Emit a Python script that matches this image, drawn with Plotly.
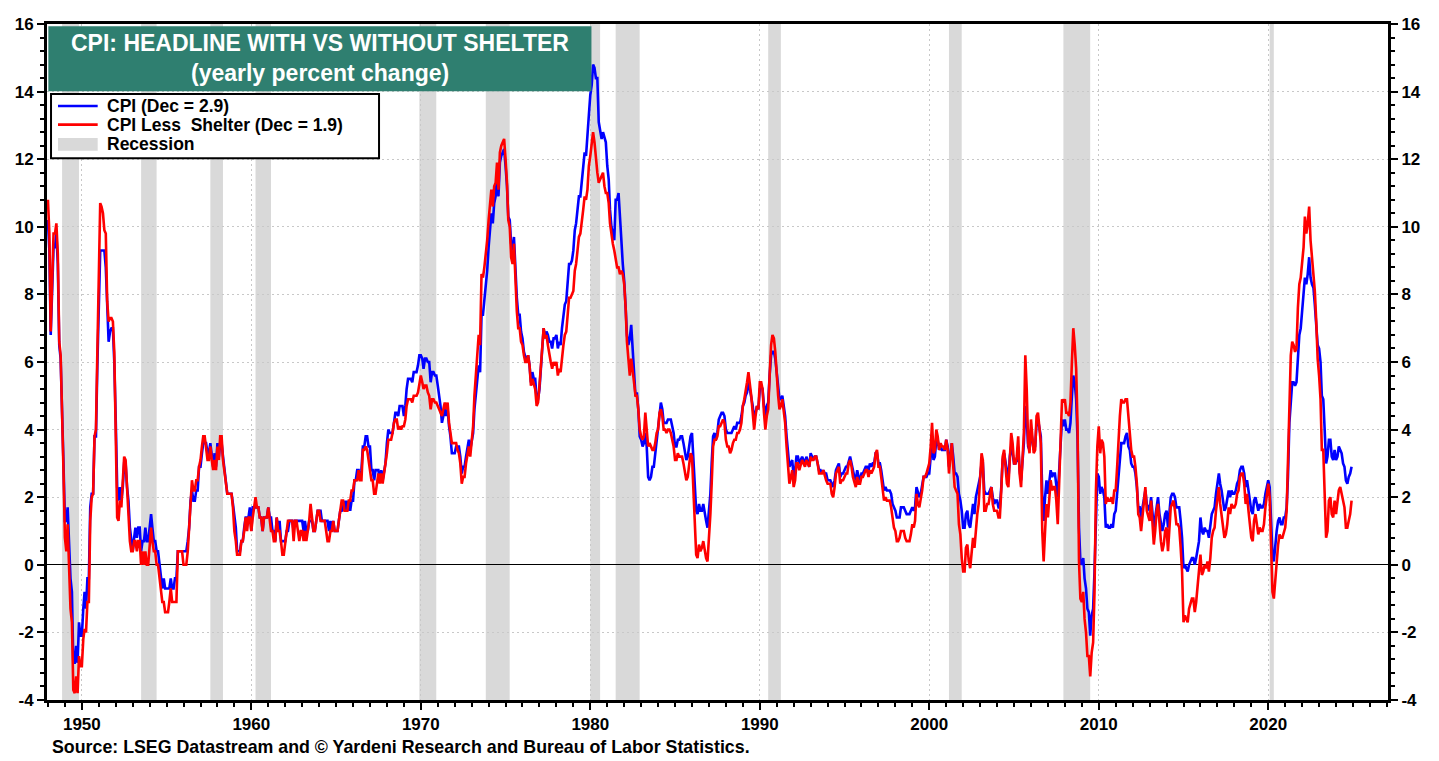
import pandas as pd
import plotly.graph_objects as go

# ---------------- data (yearly % change, monthly, Jan 1948 - Dec 2024) ----------------
CPI_1948_49 = [10.2, 9.3, 6.8, 8.3, 9.4, 9.4, 9.8, 8.9, 6.5, 6.1, 4.8, 3.0,
               1.3, 1.3, 1.7, 0.4, -0.4, -0.8, -2.9, -2.9, -2.4, -2.9, -1.7, -2.1]
CPI_1950S = [-2.1, -1.3, -0.8, -1.3, -0.4, -0.4, 1.7, 2.1, 2.1, 3.8, 3.8, 5.9,
             8.1, 9.3, 9.3, 9.3, 9.3, 8.8, 7.5, 6.6, 6.9, 7.0, 7.0, 6.0,
             4.3, 2.3, 1.9, 2.3, 1.9, 2.3, 3.0, 3.0, 2.3, 1.9, 1.1, 0.8,
             0.4, 0.8, 1.1, 0.8, 1.1, 1.1, 0.4, 0.7, 0.7, 1.1, 0.7, 0.7,
             1.1, 1.5, 1.1, 0.7, 0.7, 0.4, 0.4, 0.0, -0.4, -0.7, -0.4, -0.7,
             -0.7, -0.7, -0.7, -0.4, -0.7, -0.7, -0.4, -0.4, 0.4, 0.4, 0.4, 0.4,
             0.4, 0.4, 0.4, 0.7, 1.1, 1.9, 2.2, 1.9, 1.9, 2.2, 2.2, 2.9,
             2.9, 3.3, 3.6, 3.6, 3.6, 3.3, 3.3, 3.6, 3.3, 2.9, 3.3, 2.9,
             3.6, 3.2, 3.6, 3.6, 3.2, 2.8, 2.5, 2.1, 2.1, 2.1, 2.1, 1.8,
             1.4, 1.1, 0.4, 0.4, 0.4, 0.7, 0.7, 1.1, 1.4, 1.4, 1.4, 1.7]
CPI_1960S = [1.0, 1.7, 1.7, 1.7, 1.7, 1.7, 1.4, 1.4, 1.0, 1.4, 1.4, 1.4,
             1.7, 1.4, 1.4, 1.0, 1.0, 0.7, 1.4, 1.0, 1.3, 0.7, 0.7, 0.7,
             0.7, 1.0, 1.0, 1.3, 1.3, 1.3, 1.0, 1.3, 1.3, 1.3, 1.3, 1.3,
             1.3, 1.0, 1.3, 1.0, 1.0, 1.3, 1.3, 1.3, 1.0, 1.0, 1.3, 1.6,
             1.6, 1.6, 1.3, 1.3, 1.3, 1.3, 1.3, 1.0, 1.3, 1.0, 1.3, 1.0,
             1.0, 1.0, 1.3, 1.6, 1.6, 1.9, 1.6, 1.9, 1.6, 1.9, 1.6, 1.9,
             1.9, 2.5, 2.5, 2.8, 2.8, 2.5, 2.8, 3.5, 3.5, 3.8, 3.8, 3.5,
             3.5, 2.8, 2.8, 2.5, 2.8, 2.8, 2.8, 2.5, 2.8, 2.5, 2.8, 3.0,
             3.6, 4.0, 3.9, 3.9, 3.9, 4.2, 4.5, 4.5, 4.4, 4.7, 4.7, 4.7,
             4.4, 4.7, 5.2, 5.5, 5.5, 5.5, 5.4, 5.7, 5.7, 5.7, 5.9, 6.2]
CPI_1970S = [6.2, 6.1, 5.8, 6.1, 6.1, 6.0, 6.0, 5.4, 5.7, 5.7, 5.6, 5.6,
             5.3, 5.0, 4.7, 4.2, 4.4, 4.6, 4.4, 4.6, 4.1, 3.8, 3.3, 3.3,
             3.3, 3.5, 3.5, 3.5, 3.2, 2.7, 2.9, 2.9, 3.2, 3.4, 3.7, 3.4,
             3.6, 3.9, 4.6, 5.1, 5.5, 5.9, 5.7, 7.4, 7.4, 7.8, 8.3, 8.7,
             9.4, 10.0, 10.4, 10.1, 10.7, 10.9, 11.5, 10.9, 11.9, 12.1, 12.2, 12.3,
             11.8, 11.2, 10.3, 10.2, 9.5, 9.3, 9.7, 8.6, 7.9, 7.4, 7.4, 6.9,
             6.7, 6.3, 6.1, 6.0, 6.2, 5.9, 5.4, 5.7, 5.5, 5.5, 4.9, 4.9,
             5.2, 5.9, 6.4, 7.0, 6.7, 6.9, 6.8, 6.6, 6.6, 6.4, 6.7, 6.7,
             6.8, 6.4, 6.6, 6.5, 7.0, 7.4, 7.7, 7.8, 8.3, 8.9, 8.9, 9.0,
             9.3, 9.9, 10.1, 10.5, 10.9, 10.9, 11.3, 11.8, 12.2, 12.1, 12.6, 13.3]
CPI_1980S = [13.9, 14.2, 14.8, 14.7, 14.4, 14.4, 13.1, 12.9, 12.6, 12.8, 12.6, 12.5,
             11.8, 11.4, 10.5, 10.0, 9.8, 9.6, 10.8, 10.8, 11.0, 10.1, 9.6, 8.9,
             8.4, 7.6, 6.8, 6.5, 6.7, 7.1, 6.4, 5.9, 5.0, 5.1, 4.6, 3.8,
             3.7, 3.5, 3.6, 3.9, 3.5, 2.6, 2.5, 2.6, 2.9, 2.9, 3.3, 3.8,
             4.2, 4.6, 4.8, 4.6, 4.2, 4.2, 4.2, 4.3, 4.3, 4.3, 4.1, 3.9,
             3.5, 3.5, 3.7, 3.7, 3.8, 3.8, 3.6, 3.3, 3.1, 3.2, 3.5, 3.8,
             3.9, 3.1, 2.2, 1.6, 1.5, 1.8, 1.6, 1.6, 1.8, 1.5, 1.3, 1.1,
             1.5, 2.1, 3.0, 3.8, 3.9, 3.7, 3.9, 4.3, 4.4, 4.5, 4.5, 4.4,
             4.0, 3.9, 3.9, 3.9, 3.9, 4.0, 4.1, 4.0, 4.2, 4.2, 4.2, 4.4,
             4.7, 4.8, 5.0, 5.1, 5.4, 5.2, 5.0, 4.7, 4.3, 4.5, 4.7, 4.6]
CPI_1990S = [5.2, 5.3, 5.2, 4.7, 4.4, 4.7, 4.8, 5.6, 6.2, 6.3, 6.3, 6.1,
             5.7, 5.3, 4.9, 4.9, 5.0, 4.7, 4.4, 3.8, 3.4, 2.9, 3.0, 3.1,
             2.6, 2.8, 3.2, 3.2, 3.0, 3.1, 3.2, 3.1, 3.0, 3.2, 3.0, 2.9,
             3.3, 3.2, 3.1, 3.2, 3.2, 3.0, 2.8, 2.8, 2.7, 2.8, 2.7, 2.7,
             2.5, 2.5, 2.5, 2.4, 2.3, 2.5, 2.8, 2.9, 3.0, 2.6, 2.7, 2.7,
             2.8, 2.9, 2.9, 3.1, 3.2, 3.0, 2.8, 2.6, 2.5, 2.8, 2.6, 2.5,
             2.7, 2.7, 2.8, 2.9, 2.9, 2.8, 3.0, 2.9, 3.0, 3.0, 3.3, 3.3,
             3.0, 3.0, 2.8, 2.5, 2.2, 2.3, 2.2, 2.2, 2.2, 2.1, 1.8, 1.7,
             1.6, 1.4, 1.4, 1.4, 1.7, 1.7, 1.7, 1.6, 1.5, 1.5, 1.5, 1.6,
             1.7, 1.6, 1.7, 2.3, 2.1, 2.0, 2.1, 2.3, 2.6, 2.6, 2.6, 2.7]
CPI_2000S = [2.7, 3.2, 3.8, 3.1, 3.2, 3.7, 3.7, 3.4, 3.5, 3.4, 3.4, 3.4,
             3.7, 3.5, 2.9, 3.3, 3.6, 3.2, 2.7, 2.7, 2.6, 2.1, 1.9, 1.6,
             1.1, 1.1, 1.5, 1.6, 1.2, 1.1, 1.5, 1.8, 1.5, 2.0, 2.2, 2.4,
             2.6, 3.0, 3.0, 2.2, 2.1, 2.1, 2.1, 2.2, 2.3, 2.0, 1.8, 1.9,
             1.9, 1.7, 1.7, 2.3, 3.1, 3.3, 3.0, 2.7, 2.5, 3.2, 3.5, 3.3,
             3.0, 3.0, 3.1, 3.5, 2.8, 2.5, 3.2, 3.6, 4.7, 4.3, 3.5, 3.4,
             4.0, 3.6, 3.4, 3.5, 4.2, 4.3, 4.1, 3.8, 2.1, 1.3, 2.0, 2.5,
             2.1, 2.4, 2.8, 2.6, 2.7, 2.7, 2.4, 2.0, 2.8, 3.5, 4.3, 4.1,
             4.3, 4.0, 4.0, 3.9, 4.2, 5.0, 5.6, 5.4, 4.9, 3.7, 1.1, 0.1,
             0.0, 0.2, -0.4, -0.7, -1.3, -1.4, -2.1, -1.5, -1.3, -0.2, 1.8, 2.7]
CPI_2010S = [2.6, 2.1, 2.3, 2.2, 2.0, 1.1, 1.2, 1.1, 1.1, 1.2, 1.1, 1.5,
             1.6, 2.1, 2.7, 3.2, 3.6, 3.6, 3.6, 3.8, 3.9, 3.5, 3.4, 3.0,
             2.9, 2.9, 2.7, 2.3, 1.7, 1.7, 1.4, 1.7, 2.0, 2.2, 1.8, 1.7,
             1.6, 2.0, 1.5, 1.1, 1.4, 1.8, 2.0, 1.5, 1.2, 1.0, 1.2, 1.5,
             1.6, 1.1, 1.5, 2.0, 2.1, 2.1, 2.0, 1.7, 1.7, 1.7, 1.3, 0.8,
             -0.1, 0.0, -0.1, -0.2, 0.0, 0.1, 0.2, 0.2, 0.0, 0.2, 0.5, 0.7,
             1.4, 1.0, 0.9, 1.1, 1.0, 1.0, 0.8, 1.1, 1.5, 1.6, 1.7, 2.1,
             2.5, 2.7, 2.4, 2.2, 1.9, 1.6, 1.7, 1.9, 2.2, 2.0, 2.2, 2.1,
             2.1, 2.2, 2.4, 2.5, 2.8, 2.9, 2.9, 2.7, 2.3, 2.5, 2.2, 1.9,
             1.6, 1.5, 1.9, 2.0, 1.8, 1.6, 1.8, 1.7, 1.7, 1.8, 2.1, 2.3]
CPI_2020S = [2.5, 2.3, 1.5, 0.3, 0.1, 0.6, 1.0, 1.3, 1.4, 1.2, 1.2, 1.4,
             1.4, 1.7, 2.6, 4.2, 5.0, 5.4, 5.4, 5.3, 5.4, 6.2, 6.8, 7.0,
             7.5, 7.9, 8.5, 8.3, 8.6, 9.1, 8.5, 8.3, 8.2, 7.7, 7.1, 6.5,
             6.4, 6.0, 5.0, 4.9, 4.0, 3.0, 3.2, 3.7, 3.7, 3.2, 3.1, 3.4,
             3.1, 3.2, 3.5, 3.4, 3.3, 3.0, 2.9, 2.5, 2.4, 2.6, 2.7, 2.9]

LESS_SHELTER_1948_49 = [10.8, 9.8, 6.9, 8.6, 9.8, 9.8, 10.1, 9.2, 6.6, 6.2, 4.8, 2.8,
                        0.8, 0.4, 1.2, -0.4, -1.3, -1.7, -3.7, -3.8, -3.3, -3.8, -2.7, -3.0]
LESS_SHELTER_1950S = [-3.0, -2.2, -1.9, -2.0, -1.1, -1.1, 1.3, 2.0, 2.1, 3.8, 4.0, 6.3,
                      8.9, 10.7, 10.6, 10.4, 9.9, 9.8, 7.8, 7.2, 7.3, 7.3, 7.2, 6.3,
                      3.9, 1.4, 1.3, 1.9, 1.7, 2.4, 3.2, 3.1, 2.3, 1.7, 0.7, 0.4,
                      0.4, 0.7, 0.7, 0.4, 0.7, 0.7, 0.0, 0.4, 0.0, 0.4, 0.0, 0.0,
                      0.7, 1.1, 0.7, 0.4, 0.4, 0.0, 0.0, -0.4, -0.7, -1.1, -1.1, -1.4,
                      -1.4, -1.4, -1.1, -0.7, -1.1, -1.1, -1.1, -1.1, 0.4, 0.4, 0.4, 0.4,
                      0.0, 0.0, 0.0, 0.4, 1.1, 1.8, 2.5, 2.2, 2.2, 2.5, 2.5, 2.9,
                      3.1, 3.5, 3.8, 3.8, 3.5, 3.1, 3.1, 3.5, 3.1, 2.8, 3.1, 2.8,
                      3.5, 3.1, 3.8, 3.8, 3.1, 2.8, 2.4, 2.1, 2.1, 2.1, 2.1, 1.7,
                      1.0, 0.7, 0.3, 0.3, 0.3, 0.7, 0.7, 1.0, 1.4, 1.0, 1.4, 1.4]
LESS_SHELTER_1960S = [1.0, 1.4, 1.7, 2.0, 1.7, 1.7, 1.4, 1.4, 1.0, 1.4, 1.4, 1.4,
                      1.7, 1.4, 1.0, 1.0, 0.7, 0.7, 1.4, 1.0, 1.0, 0.7, 0.3, 0.3,
                      0.7, 1.0, 1.3, 1.3, 1.3, 1.3, 0.7, 1.3, 1.3, 1.0, 0.7, 1.0,
                      1.0, 0.7, 1.0, 0.7, 1.0, 1.3, 1.8, 1.3, 1.0, 1.0, 1.3, 1.6,
                      1.6, 1.3, 1.3, 1.3, 1.3, 1.0, 0.7, 0.7, 1.0, 1.0, 1.3, 1.0,
                      1.0, 1.0, 1.3, 1.6, 1.9, 1.9, 1.6, 1.6, 1.6, 1.9, 1.9, 2.2,
                      2.2, 2.5, 2.5, 2.5, 2.8, 2.5, 2.5, 3.4, 3.4, 3.5, 3.4, 3.1,
                      2.8, 2.5, 2.5, 2.1, 2.1, 2.4, 2.7, 2.4, 2.7, 2.4, 2.7, 2.9,
                      3.3, 3.7, 3.7, 3.7, 3.9, 4.2, 4.3, 4.3, 4.0, 4.1, 4.0, 4.1,
                      4.1, 4.3, 4.7, 4.9, 4.9, 4.9, 4.8, 5.0, 5.0, 5.0, 5.1, 5.4]
LESS_SHELTER_1970S = [5.6, 5.4, 5.2, 5.3, 5.3, 5.1, 5.0, 4.6, 4.9, 4.9, 4.8, 4.8,
                      4.7, 4.6, 4.5, 4.4, 4.6, 4.8, 4.6, 4.8, 4.2, 3.9, 3.6, 3.6,
                      3.6, 3.6, 3.4, 3.3, 3.0, 2.4, 2.6, 2.6, 3.0, 3.2, 3.5, 3.2,
                      3.6, 4.1, 5.0, 5.8, 6.2, 6.8, 6.5, 8.6, 8.5, 8.8, 9.2, 9.6,
                      10.2, 10.8, 11.1, 10.6, 11.2, 11.3, 11.9, 11.1, 12.2, 12.4, 12.5, 12.6,
                      12.0, 11.3, 10.2, 10.0, 9.1, 8.9, 9.5, 8.3, 7.5, 7.0, 7.0, 6.6,
                      6.5, 6.2, 6.0, 6.0, 6.2, 5.9, 5.3, 5.5, 5.3, 5.2, 4.7, 4.8,
                      5.3, 6.0, 6.6, 7.0, 6.7, 6.8, 6.5, 6.2, 6.0, 5.8, 6.0, 5.9,
                      6.0, 5.6, 5.8, 5.7, 6.2, 6.5, 6.8, 6.9, 7.4, 7.9, 7.9, 8.0,
                      8.1, 8.7, 8.9, 9.3, 9.7, 9.8, 10.1, 10.5, 10.9, 10.8, 11.1, 11.8]
LESS_SHELTER_1980S = [12.1, 12.4, 12.8, 12.5, 11.9, 11.6, 11.3, 11.4, 11.5, 11.6, 11.2, 11.0,
                      11.0, 10.7, 10.1, 9.7, 9.5, 9.3, 9.0, 8.8, 8.8, 8.6, 8.7, 8.6,
                      8.3, 7.6, 6.6, 6.0, 5.6, 6.1, 5.8, 5.4, 5.0, 5.0, 4.6, 4.0,
                      3.8, 3.7, 3.8, 4.5, 4.0, 3.5, 3.6, 3.5, 3.4, 3.4, 3.6, 3.9,
                      4.0, 4.5, 4.6, 4.4, 4.0, 4.0, 3.9, 4.0, 4.0, 3.9, 3.7, 3.5,
                      3.1, 3.1, 3.3, 3.2, 3.2, 3.2, 3.0, 2.7, 2.5, 2.6, 3.0, 3.3,
                      3.2, 2.2, 0.9, 0.3, 0.2, 0.6, 0.4, 0.5, 0.7, 0.4, 0.2, 0.1,
                      0.7, 1.5, 2.4, 3.5, 3.7, 3.7, 3.8, 4.1, 4.1, 4.2, 4.3, 4.2,
                      3.7, 3.5, 3.5, 3.3, 3.4, 3.6, 3.7, 3.7, 3.9, 3.9, 4.0, 4.2,
                      4.7, 4.9, 5.1, 5.4, 5.7, 5.4, 5.0, 4.5, 4.0, 4.4, 4.7, 4.6]
LESS_SHELTER_1990S = [5.4, 5.4, 5.2, 4.5, 4.0, 4.4, 4.6, 5.6, 6.5, 6.8, 6.7, 6.3,
                      5.5, 5.0, 4.6, 4.7, 4.9, 4.6, 4.2, 3.5, 3.0, 2.4, 2.6, 2.8,
                      2.3, 2.5, 3.0, 3.0, 2.8, 3.0, 3.1, 3.0, 2.9, 3.1, 3.0, 2.9,
                      3.2, 3.1, 3.1, 3.2, 3.2, 3.0, 2.7, 2.7, 2.7, 2.8, 2.6, 2.5,
                      2.4, 2.4, 2.4, 2.1, 2.0, 2.3, 2.7, 2.8, 2.9, 2.4, 2.5, 2.5,
                      2.6, 2.7, 2.7, 3.0, 3.1, 2.9, 2.6, 2.4, 2.3, 2.6, 2.4, 2.4,
                      2.6, 2.6, 2.7, 2.8, 2.8, 2.6, 2.8, 2.7, 2.8, 2.9, 3.3, 3.4,
                      2.9, 2.9, 2.6, 2.2, 1.9, 2.0, 1.9, 1.9, 1.9, 1.7, 1.4, 1.1,
                      1.0, 0.7, 0.7, 0.8, 1.0, 1.0, 1.0, 0.8, 0.7, 0.7, 0.7, 0.9,
                      1.2, 1.1, 1.3, 2.1, 1.8, 1.7, 1.9, 2.2, 2.6, 2.6, 2.7, 2.9]
LESS_SHELTER_2000S = [3.0, 3.5, 4.2, 3.3, 3.4, 4.0, 3.8, 3.4, 3.6, 3.5, 3.5, 3.4,
                      3.7, 3.4, 2.7, 3.2, 3.6, 2.9, 2.3, 2.2, 2.1, 1.2, 0.9, 0.2,
                      -0.2, -0.2, 0.5, 0.6, 0.1, -0.1, 0.4, 0.8, 0.5, 1.1, 1.5, 1.8,
                      2.5, 3.3, 3.1, 1.6, 1.6, 1.8, 1.8, 2.1, 2.3, 1.8, 1.6, 1.6,
                      1.6, 1.4, 1.4, 2.2, 3.2, 3.4, 2.9, 2.4, 2.3, 3.3, 3.9, 3.6,
                      3.0, 3.0, 3.2, 3.8, 2.7, 2.3, 3.3, 3.9, 6.2, 5.2, 3.6, 3.3,
                      4.3, 3.6, 3.3, 3.4, 4.4, 4.5, 4.1, 3.6, 1.0, 0.1, 1.0, 1.8,
                      1.4, 1.9, 2.5, 2.2, 2.3, 2.3, 1.9, 1.2, 2.4, 3.6, 4.9, 4.8,
                      4.9, 4.5, 4.5, 4.4, 4.8, 6.0, 7.0, 6.5, 5.8, 4.1, 0.1, -1.0,
                      -1.1, -0.8, -1.6, -2.0, -2.7, -2.7, -3.3, -2.6, -2.3, -0.8, 2.2, 3.5]
LESS_SHELTER_2010S = [4.1, 3.3, 3.7, 3.6, 3.2, 1.8, 2.0, 1.9, 1.9, 2.0, 1.8, 2.2,
                      2.2, 2.9, 3.8, 4.4, 4.9, 4.8, 4.8, 4.9, 4.9, 4.3, 4.0, 3.4,
                      3.2, 3.2, 2.9, 2.4, 1.5, 1.4, 1.0, 1.5, 2.0, 2.3, 1.6, 1.4,
                      1.3, 1.9, 1.2, 0.6, 1.0, 1.6, 1.8, 1.2, 0.7, 0.4, 0.6, 1.0,
                      1.1, 0.4, 0.9, 1.7, 1.8, 1.9, 1.6, 1.2, 1.2, 1.1, 0.5, -0.2,
                      -1.7, -1.5, -1.6, -1.7, -1.3, -1.1, -1.0, -1.0, -1.4, -1.1, -0.6, -0.3,
                      0.3, -0.3, -0.2, 0.0, -0.1, 0.1, -0.2, 0.2, 0.8, 1.0, 1.1, 1.6,
                      2.0, 2.3, 1.8, 1.5, 1.1, 0.8, 0.9, 1.2, 1.7, 1.5, 1.8, 1.7,
                      1.7, 1.8, 2.1, 2.2, 2.6, 2.7, 2.7, 2.4, 1.8, 2.1, 1.6, 1.2,
                      0.8, 0.7, 1.3, 1.5, 1.2, 0.9, 1.1, 1.0, 1.0, 1.2, 1.7, 2.1]
LESS_SHELTER_2020S = [2.4, 2.0, 0.9, -0.8, -1.0, -0.4, 0.2, 0.6, 0.9, 0.8, 0.8, 1.0,
                      1.1, 1.6, 3.0, 5.1, 6.2, 6.6, 6.5, 6.3, 6.4, 7.6, 8.3, 8.5,
                      9.0, 9.4, 10.3, 9.8, 10.1, 10.6, 9.6, 9.1, 8.8, 8.1, 7.2, 6.1,
                      5.6, 4.9, 3.4, 3.4, 2.1, 0.8, 1.0, 1.9, 2.0, 1.5, 1.4, 1.9,
                      1.5, 1.8, 2.2, 2.3, 2.1, 1.8, 1.7, 1.1, 1.1, 1.3, 1.5, 1.9]

RECESSIONS = [("1948-11-01", "1949-10-31"), ("1953-07-01", "1954-05-31"),
              ("1957-08-01", "1958-04-30"), ("1960-04-01", "1961-02-28"),
              ("1969-12-01", "1970-11-30"), ("1973-11-01", "1975-03-31"),
              ("1980-01-01", "1980-07-31"), ("1981-07-01", "1982-11-30"),
              ("1990-07-01", "1991-03-31"), ("2001-03-01", "2001-11-30"),
              ("2007-12-01", "2009-06-30"), ("2020-02-01", "2020-04-30")]

DECADES = [1950, 1960, 1970, 1980, 1990, 2000, 2010, 2020]
Y_TICKS = [-4, -2, 0, 2, 4, 6, 8, 10, 12, 14, 16]

SERIES_NAMES = ["CPI (Dec = 2.9)", "CPI Less\u00a0 Shelter (Dec = 1.9)", "Recession"]

cpi = (CPI_1948_49 + CPI_1950S + CPI_1960S + CPI_1970S + CPI_1980S +
       CPI_1990S + CPI_2000S + CPI_2010S + CPI_2020S)
less_shelter = (LESS_SHELTER_1948_49 + LESS_SHELTER_1950S + LESS_SHELTER_1960S +
                LESS_SHELTER_1970S + LESS_SHELTER_1980S + LESS_SHELTER_1990S +
                LESS_SHELTER_2000S + LESS_SHELTER_2010S + LESS_SHELTER_2020S)
dates = pd.date_range("1948-01-01", periods=len(cpi), freq="MS")
dates_ls = pd.date_range("1948-01-01", periods=len(less_shelter), freq="MS")

FONT = "Liberation Sans, Arial, sans-serif"
GRID = "#c8c8c8"
REC = "#d9d9d9"
BLUE = "#0000ff"
RED = "#ff0000"

fig = go.Figure()
fig.add_trace(go.Scatter(x=dates, y=cpi, mode="lines", name=SERIES_NAMES[0],
                         line=dict(color=BLUE, width=2.6), showlegend=False))
fig.add_trace(go.Scatter(x=dates_ls, y=less_shelter, mode="lines", name=SERIES_NAMES[1],
                         line=dict(color=RED, width=2.6), showlegend=False))
# empty trace that anchors the right-hand axis
fig.add_trace(go.Scatter(x=[None], y=[None], mode="lines", name=SERIES_NAMES[2],
                         line=dict(color=REC, width=13), yaxis="y2", showlegend=False))

for a, b in RECESSIONS:
    fig.add_shape(type="rect", xref="x", yref="paper", x0=a, x1=b, y0=0, y1=1,
                  fillcolor=REC, line=dict(width=0), layer="below")

# ---- title box ----
fig.add_shape(type="rect", xref="paper", yref="paper", x0=0.001, x1=0.406,
              y0=0.9005, y1=0.9965, fillcolor="#2f7f70", line=dict(width=0),
              layer="above")
fig.add_annotation(xref="paper", yref="paper", x=0.2035, y=0.9725,
                   text="<b>CPI: HEADLINE WITH VS WITHOUT SHELTER</b>",
                   showarrow=False, font=dict(family=FONT, size=23, color="white"),
                   xanchor="center", yanchor="middle")
fig.add_annotation(xref="paper", yref="paper", x=0.2035, y=0.927,
                   text="<b>(yearly percent change)</b>",
                   showarrow=False, font=dict(family=FONT, size=23, color="white"),
                   xanchor="center", yanchor="middle")

# ---- legend box (drawn manually for exact layout) ----
fig.add_shape(type="rect", xref="paper", yref="paper", x0=0.003, x1=0.2476,
              y0=0.8015, y1=0.8964, fillcolor="white",
              line=dict(color="black", width=2), layer="above")
leg_rows = [0.8788, 0.8511, 0.8219]
fig.add_shape(type="line", xref="paper", yref="paper", x0=0.0082, x1=0.0378,
              y0=leg_rows[0], y1=leg_rows[0], line=dict(color=BLUE, width=2.6),
              layer="above")
fig.add_shape(type="line", xref="paper", yref="paper", x0=0.0082, x1=0.0378,
              y0=leg_rows[1], y1=leg_rows[1], line=dict(color=RED, width=2.6),
              layer="above")
fig.add_shape(type="rect", xref="paper", yref="paper", x0=0.0082, x1=0.0378,
              y0=leg_rows[2] - 0.0095, y1=leg_rows[2] + 0.0095, fillcolor=REC,
              line=dict(width=0), layer="above")
for name, yy in zip(SERIES_NAMES, leg_rows):
    fig.add_annotation(xref="paper", yref="paper", x=0.0432, y=yy,
                       text=f"<b>{name}</b>", showarrow=False,
                       font=dict(family=FONT, size=17.5, color="black"),
                       xanchor="left", yanchor="middle")

# ---- source ----
fig.add_annotation(xref="paper", yref="paper", x=0.002, y=-0.069,
                   text="<b>Source: LSEG Datastream and © Yardeni Research and Bureau of Labor Statistics.</b>",
                   showarrow=False, font=dict(family=FONT, size=17.8, color="black"),
                   xanchor="left", yanchor="middle")

tickfont = dict(family=FONT, size=17, color="black", weight="bold")
yaxis_common = dict(range=[-4, 16], tickmode="array", tickvals=Y_TICKS,
                    ticktext=[str(v) for v in Y_TICKS], ticks="outside",
                    ticklen=7, tickwidth=2, tickcolor="black", tickfont=tickfont,
                    showline=True, linewidth=3, linecolor="black",
                    minor=dict(ticks="outside", ticklen=4, tickwidth=1.5,
                               tickcolor="black", tick0=0, dtick=0.4, showgrid=False),
                    fixedrange=True)

# page body has an 8px margin, so the figure is shifted/sized to compensate
fig.update_layout(
    width=1431, height=753, autosize=False,
    margin=dict(l=31, r=51, t=7, b=61),
    paper_bgcolor="white", plot_bgcolor="white",
    showlegend=False,
    xaxis=dict(type="date", range=["1947-12-12", "2027-01-25"],
               tickmode="array",
               tickvals=[f"{d}-01-01" for d in DECADES],
               ticktext=[str(d) for d in DECADES],
               ticks="outside", ticklen=7, tickwidth=2, tickcolor="black",
               tickfont=tickfont,
               showline=True, linewidth=3, linecolor="black", mirror=True,
               showgrid=True, gridcolor=GRID, gridwidth=1.3, griddash="2px,3px",
               minor=dict(ticks="outside", ticklen=4, tickwidth=1.5, tickcolor="black",
                          dtick="M12", tick0="1950-01-01", showgrid=False),
               zeroline=False),
    yaxis=dict(**yaxis_common, side="left", showgrid=True, gridcolor=GRID,
               gridwidth=1.3, griddash="2px,3px", zeroline=True, zerolinecolor="black",
               zerolinewidth=1),
    yaxis2=dict(**yaxis_common, side="right", overlaying="y", showgrid=False,
                zeroline=False),
)

fig.write_html("out.html")
